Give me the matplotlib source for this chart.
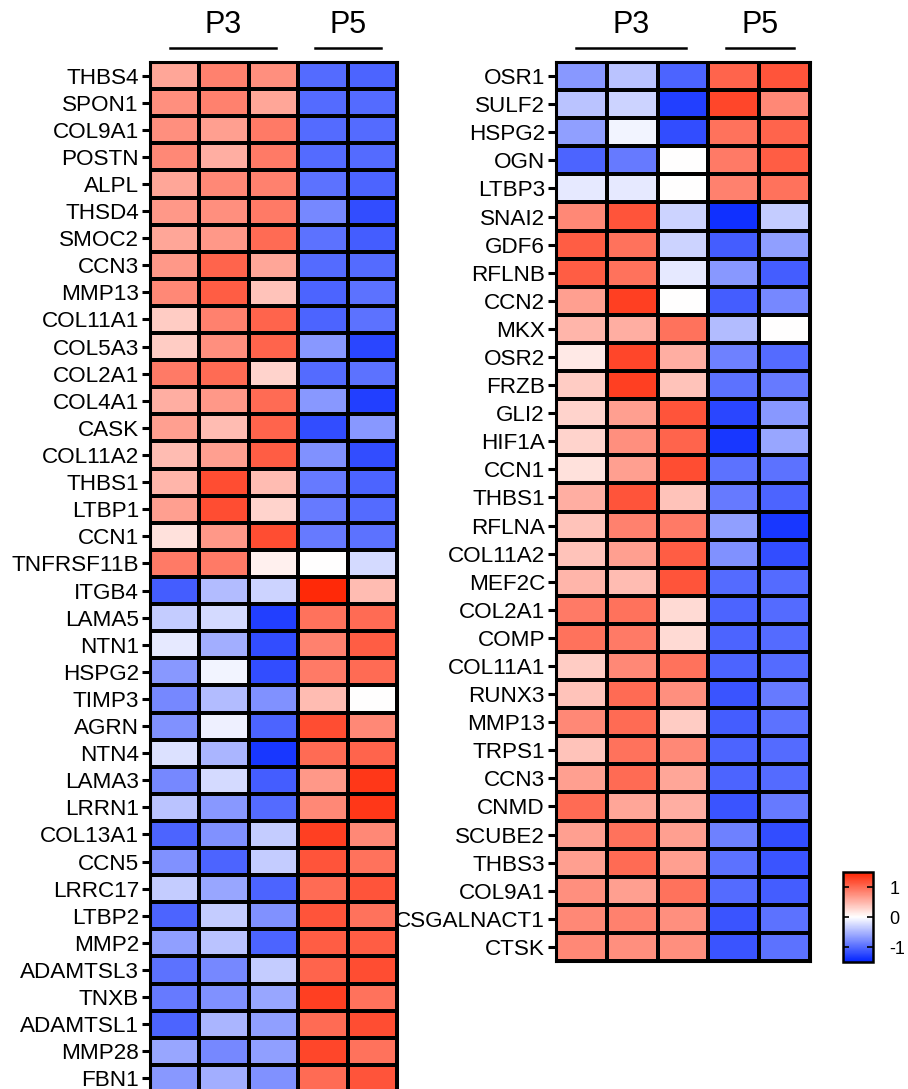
import numpy as np
import matplotlib
matplotlib.use('Agg')
import matplotlib.pyplot as plt
from matplotlib.colors import LinearSegmentedColormap
from matplotlib.transforms import blended_transform_factory

plt.rcParams['font.family'] = ['Liberation Sans', 'DejaVu Sans']
plt.rcParams['axes.unicode_minus'] = False

# 左边热图 (P3 x3, P5 x2)
genes_left = ['THBS4', 'SPON1', 'COL9A1', 'POSTN', 'ALPL', 'THSD4', 'SMOC2', 'CCN3',
              'MMP13', 'COL11A1', 'COL5A3', 'COL2A1', 'COL4A1', 'CASK', 'COL11A2',
              'THBS1', 'LTBP1', 'CCN1', 'TNFRSF11B', 'ITGB4', 'LAMA5', 'NTN1', 'HSPG2',
              'TIMP3', 'AGRN', 'NTN4', 'LAMA3', 'LRRN1', 'COL13A1', 'CCN5', 'LRRC17',
              'LTBP2', 'MMP2', 'ADAMTSL3', 'TNXB', 'ADAMTSL1', 'MMP28', 'FBN1']
values_left = [
    [0.60, 0.85, 0.75, -1.00, -1.05],
    [0.75, 0.85, 0.60, -1.00, -1.00],
    [0.75, 0.65, 0.90, -1.00, -1.00],
    [0.80, 0.55, 0.90, -1.00, -1.00],
    [0.60, 0.80, 0.85, -0.95, -1.05],
    [0.70, 0.75, 0.90, -0.80, -1.20],
    [0.60, 0.70, 1.00, -0.95, -1.10],
    [0.70, 1.05, 0.60, -1.00, -1.00],
    [0.80, 1.10, 0.40, -1.05, -0.95],
    [0.35, 0.85, 1.05, -1.05, -0.95],
    [0.35, 0.75, 1.05, -0.70, -1.25],
    [0.90, 1.00, 0.30, -1.00, -0.95],
    [0.55, 0.70, 1.00, -0.70, -1.30],
    [0.65, 0.45, 1.05, -1.20, -0.70],
    [0.45, 0.65, 1.10, -0.75, -1.20],
    [0.50, 1.20, 0.45, -0.90, -1.05],
    [0.65, 1.20, 0.30, -0.90, -1.00],
    [0.20, 0.70, 1.20, -0.90, -0.95],
    [0.90, 0.90, 0.10, 0.00, -0.25],
    [-1.10, -0.45, -0.30, 1.45, 0.45],
    [-0.35, -0.25, -1.30, 0.95, 1.00],
    [-0.15, -0.55, -1.20, 0.85, 1.10],
    [-0.70, -0.08, -1.20, 0.90, 1.00],
    [-0.80, -0.45, -0.75, 0.45, 0.00],
    [-0.75, -0.10, -1.05, 1.20, 0.80],
    [-0.20, -0.50, -1.35, 1.00, 1.05],
    [-0.80, -0.25, -1.10, 0.70, 1.35],
    [-0.40, -0.70, -1.00, 0.80, 1.35],
    [-1.05, -0.75, -0.35, 1.30, 0.80],
    [-0.75, -1.05, -0.35, 1.15, 0.95],
    [-0.35, -0.60, -1.05, 1.00, 1.15],
    [-1.05, -0.35, -0.75, 1.15, 0.95],
    [-0.65, -0.40, -1.05, 1.10, 1.10],
    [-0.95, -0.80, -0.35, 1.05, 1.20],
    [-0.90, -0.75, -0.60, 1.30, 0.95],
    [-1.05, -0.50, -0.65, 1.00, 1.20],
    [-0.60, -0.80, -0.65, 1.25, 0.95],
    [-0.70, -0.55, -0.75, 1.00, 1.15],
]

# 右边热图
genes_right = ['OSR1', 'SULF2', 'HSPG2', 'OGN', 'LTBP3', 'SNAI2', 'GDF6', 'RFLNB', 'CCN2',
               'MKX', 'OSR2', 'FRZB', 'GLI2', 'HIF1A', 'CCN1', 'THBS1', 'RFLNA', 'COL11A2',
               'MEF2C', 'COL2A1', 'COMP', 'COL11A1', 'RUNX3', 'MMP13', 'TRPS1', 'CCN3',
               'CNMD', 'SCUBE2', 'THBS3', 'COL9A1', 'CSGALNACT1', 'CTSK']
values_right = [
    [-0.70, -0.40, -1.05, 1.05, 1.15],
    [-0.40, -0.30, -1.30, 1.25, 0.80],
    [-0.65, -0.08, -1.20, 0.95, 1.05],
    [-1.05, -0.90, 0.00, 0.90, 1.10],
    [-0.15, -0.15, 0.00, 0.85, 0.95],
    [0.80, 1.15, -0.30, -1.40, -0.35],
    [1.10, 0.95, -0.30, -1.10, -0.65],
    [1.10, 0.95, -0.15, -0.70, -1.10],
    [0.65, 1.30, 0.00, -1.10, -0.80],
    [0.50, 0.55, 0.95, -0.45, 0.00],
    [0.15, 1.25, 0.55, -0.85, -1.00],
    [0.35, 1.30, 0.40, -0.95, -0.90],
    [0.30, 0.65, 1.15, -1.25, -0.70],
    [0.30, 0.75, 1.05, -1.35, -0.60],
    [0.20, 0.65, 1.20, -0.95, -0.95],
    [0.55, 1.15, 0.40, -0.90, -1.05],
    [0.40, 0.85, 0.90, -0.65, -1.35],
    [0.40, 0.65, 1.10, -0.75, -1.20],
    [0.50, 0.45, 1.15, -1.00, -1.00],
    [0.90, 0.95, 0.25, -1.05, -1.00],
    [0.95, 0.90, 0.25, -1.05, -1.00],
    [0.35, 0.80, 0.95, -1.05, -1.00],
    [0.40, 1.00, 0.75, -1.15, -0.90],
    [0.80, 1.00, 0.35, -1.10, -0.95],
    [0.40, 0.95, 0.80, -1.05, -1.00],
    [0.65, 1.00, 0.60, -1.05, -1.00],
    [1.00, 0.60, 0.55, -1.15, -0.90],
    [0.65, 0.95, 0.65, -0.85, -1.20],
    [0.65, 1.00, 0.65, -0.95, -1.15],
    [0.75, 0.65, 0.95, -1.00, -1.10],
    [0.80, 0.85, 0.75, -1.15, -0.95],
    [0.80, 0.75, 0.75, -1.15, -0.95],
]

groups = ['P3', 'P5']
group_cols = [(0, 3), (3, 5)]
cbar_ticks = [-1, 0, 1]

cmap = LinearSegmentedColormap.from_list('bwr2', ['#0022ff', '#ffffff', '#ff2200'])
W, H = 908, 1089


def draw_heat(ax, genes, vals, h_px):
    data = np.array(vals)
    mesh = ax.pcolormesh(data, cmap=cmap, vmin=-1.5, vmax=1.5,
                         edgecolors='black', linewidth=1.6)
    ax.set_xlim(0, data.shape[1])
    ax.set_ylim(data.shape[0], 0)
    ax.set_yticks(np.arange(len(genes)) + 0.5)
    ax.set_yticklabels(genes, fontsize=16.2)
    ax.set_xticks([])
    ax.tick_params(axis='y', length=6, width=2.2, pad=2)
    for s in ax.spines.values():
        s.set_linewidth(2.2)
    # 分组标签和横线
    tr = blended_transform_factory(ax.transData, ax.transAxes)
    y_line = 1 + 14 / h_px
    y_text = 1 + 37 / h_px
    for g, (a, b) in zip(groups, group_cols):
        if g == 'P3':
            x0, x1 = a + 0.4, b - 0.45
        else:
            x0, x1 = a + 0.34, b - 0.32
        ax.plot([x0, x1], [y_line, y_line], color='black', lw=1.8,
                transform=tr, clip_on=False)
        ax.text((x0 + x1) / 2, y_text, g, fontsize=22, ha='center', va='center',
                transform=tr)
    return mesh


fig = plt.figure(figsize=(W / 100, H / 100), dpi=100)

# 右边先画，左边盖住 CSGALNACT1 的开头
h_right = 899
ax_r = fig.add_axes([556 / W, 1 - 961 / H, 254 / W, h_right / H])
mesh = draw_heat(ax_r, genes_right, values_right, h_right)

h_left = 1030
ax_l = fig.add_axes([150 / W, 1 - (62 + h_left) / H, 247 / W, h_left / H])
draw_heat(ax_l, genes_left, values_left, h_left)

cax = fig.add_axes([843 / W, 1 - 962 / H, 30 / W, 90 / H])
cb = fig.colorbar(mesh, cax=cax, ticks=cbar_ticks)
cb.outline.set_linewidth(1.8)
cax.tick_params(direction='in', left=True, right=True, length=4, width=1.2,
                labelsize=13, pad=12)

fig.savefig('out.png', dpi=100)
